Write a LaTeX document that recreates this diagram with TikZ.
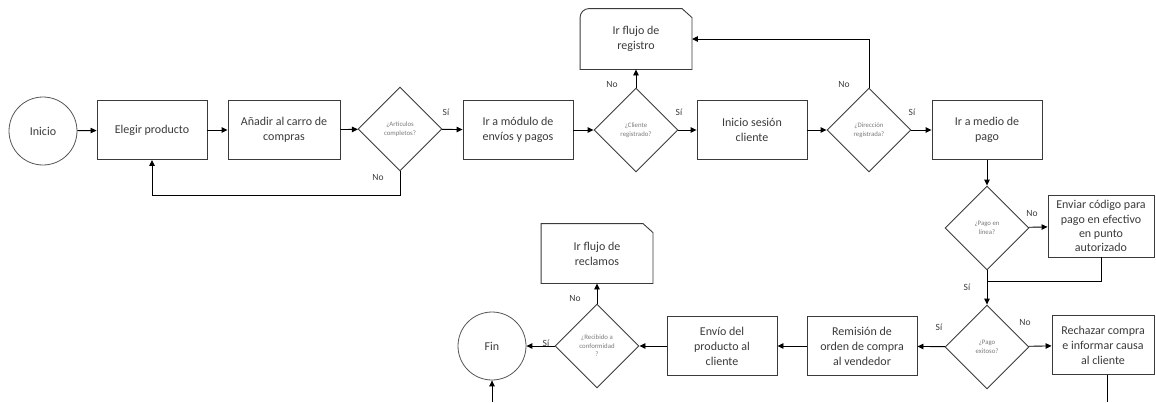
\documentclass[tikz,border=0pt]{standalone}
\usepackage{fontspec}
\setmainfont{Carlito}
\usetikzlibrary{shapes.geometric,arrows.meta,calc}
\definecolor{boxc}{HTML}{3A3A3A}
\definecolor{txt}{HTML}{3A3A3A}
\definecolor{dtxt}{HTML}{7A7A7A}
\definecolor{circc}{HTML}{555555}
\begin{document}
\begin{tikzpicture}[x=1pt,y=-1pt,
  box/.style={draw=boxc, line width=0.9pt, minimum width=110pt, minimum height=59pt, inner sep=1pt, align=center, font=\fontsize{12}{15}\selectfont, text=txt},
  dec/.style={diamond, draw=boxc, line width=0.9pt, minimum width=84pt, minimum height=84pt, inner sep=0pt, align=center, font=\fontsize{6.8}{8.5}\selectfont, text=dtxt},
  term/.style={circle, draw=circc, line width=0.8pt, minimum size=68pt, inner sep=0pt, font=\fontsize{12}{14}\selectfont, text=txt},
  arr/.style={-{Triangle[length=6pt,width=5.5pt]}, line width=0.9pt, draw=black},
  lnk/.style={line width=0.9pt, draw=black},
  lbl/.style={font=\fontsize{9.5}{11}\selectfont, text=txt, inner sep=0pt}
]
\useasboundingbox (0,0) rectangle (1156,402);

% nodes
\node[term] (ini) at (43,131) {Inicio};
\node[box] (eleg) at (152,130) {Elegir producto};
\node[box, minimum width=112pt] (anad) at (284,130) {Añadir al carro de\\compras};
\node[dec] (art) at (400,129) {¿Artículos\\completos?};
\node[box] (mod) at (518,130) {Ir a módulo de\\envíos y pagos};
\node[dec] (cli) at (636,130) {¿Cliente\\registrado?};
\node[box] (ses) at (752,130) {Inicio sesión\\cliente};
\node[dec] (dir) at (869,130) {¿Dirección\\registrada?};
\node[box] (med) at (987,130) {Ir a medio de\\pago};
\node[box, draw=none, minimum width=111pt, minimum height=60pt] (reg) at (636,39) {Ir flujo de\\registro};
\node[dec] (lin) at (987,228) {¿Pago en\\línea?};
\node[box, minimum width=106pt, minimum height=62pt, inner sep=0pt, font=\fontsize{12}{14.2}\selectfont] (env) at (1101,226) {Enviar código para\\pago en efectivo\\en punto\\autorizado};
\node[dec] (exi) at (987,347) {¿Pago\\exitoso?};
\node[box, minimum width=102pt, minimum height=59pt, inner sep=0pt] (rec) at (1103,345) {Rechazar compra\\e informar causa\\al cliente};
\node[box] (rem) at (862,346) {Remisión de\\orden de compra\\al vendedor};
\node[box] (evp) at (722,346) {Envío del\\producto al\\cliente};
\node[dec] (rcb) at (597,346) {¿Recibido a\\conformidad\\?};
\node[box, draw=none, minimum width=111pt, minimum height=59pt] (rcl) at (597,253.5) {Ir flujo de\\reclamos};
\node[term] (fin) at (492,346) {Fin};

% special outlines
\draw[boxc, line width=0.9pt] (reg.south west) -- ($(reg.north west)+(0,9)$)
  arc[start angle=180, end angle=90, radius=9pt]
  -- ($(reg.north east)+(-10,0)$) -- ($(reg.north east)+(0,9)$) -- (reg.south east) -- cycle;
\draw[boxc, line width=0.9pt] (rcl.south west) -- (rcl.north west)
  -- ($(rcl.north east)+(-10,0)$) -- ($(rcl.north east)+(0,9)$) -- (rcl.south east) -- cycle;

% coordinates
\coordinate (j1) at (987,281);
\coordinate (out1) at (1107,402);
\coordinate (in1) at (492,402);

% connectors
\draw[arr] (ini) -- (eleg);
\draw[arr] (eleg) -- (anad);
\draw[arr] (anad) -- (art);
\draw[arr] (art) -- (mod);
\draw[arr] (art.south) -- ++(0,24) -| (eleg.south);
\draw[arr] (mod) -- (cli);
\draw[arr] (cli) -- (ses);
\draw[arr] (cli) -- (reg);
\draw[arr] (ses) -- (dir);
\draw[arr] (dir.north) |- (reg.east);
\draw[arr] (dir) -- (med);
\draw[arr] (med) -- (lin);
\draw[arr] (lin) -- (env);
\draw[arr] (lin) -- (exi);
\draw[lnk] (env.south) |- (j1);
\draw[arr] (exi) -- (rem);
\draw[arr] (exi) -- (rec);
\draw[lnk] (rec.south -| out1) -- (out1);
\draw[arr] (rem) -- (evp);
\draw[arr] (evp) -- (rcb);
\draw[arr] (rcb) -- (fin);
\draw[arr] (rcb) -- (rcl);
\draw[arr] (in1) -- (fin);

% labels
\node[lbl] (l1) at (446,112) {Sí};
\node[lbl] (l2) at (378,177) {No};
\node[lbl] (l3) at (612,84) {No};
\node[lbl] (l4) at (679,112) {Sí};
\node[lbl] (l5) at (844,84) {No};
\node[lbl] (l6) at (912,112) {Sí};
\node[lbl] (l7) at (1032,213) {No};
\node[lbl] (l8) at (967,287) {Sí};
\node[lbl] (l9) at (939,327) {Sí};
\node[lbl] (l10) at (1025,322) {No};
\node[lbl] (l11) at (575,298) {No};
\node[lbl] (l12) at (546,343) {Sí};
\end{tikzpicture}
\end{document}
